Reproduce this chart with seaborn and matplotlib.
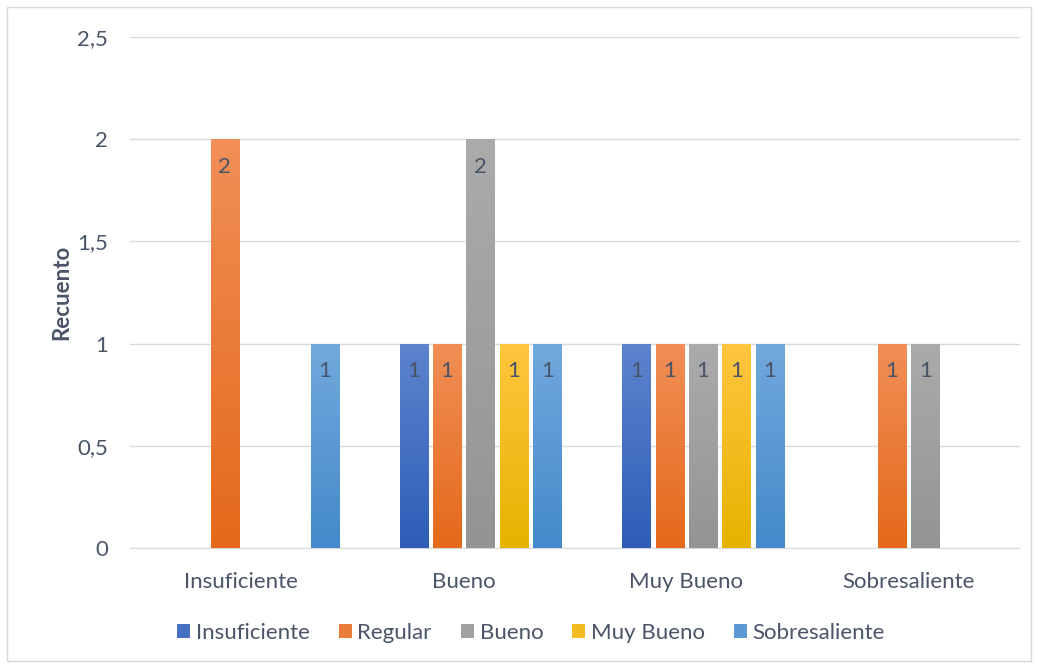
import matplotlib
matplotlib.use("Agg")
import matplotlib.pyplot as plt
import matplotlib.colors as mcolors
from matplotlib.patches import Patch
import numpy as np
import pandas as pd
import seaborn as sns

categories = ["Insuficiente", "Bueno", "Muy Bueno", "Sobresaliente"]
series = ["Insuficiente", "Regular", "Bueno", "Muy Bueno", "Sobresaliente"]
counts = {
    "Insuficiente": [0, 1, 1, 0],
    "Regular": [2, 1, 1, 1],
    "Bueno": [0, 2, 1, 1],
    "Muy Bueno": [0, 1, 1, 0],
    "Sobresaliente": [1, 1, 1, 0],
}
# (top, bottom) gradient colours for each series
grad = {
    "Insuficiente": ("#5D84CD", "#2E5DB7"),
    "Regular": ("#F18F57", "#E4691A"),
    "Bueno": ("#ABABAB", "#949494"),
    "Muy Bueno": ("#FFC63F", "#E5B300"),
    "Sobresaliente": ("#72A9DD", "#4489CA"),
}
mid = {k: mcolors.to_hex(np.mean([mcolors.to_rgb(a), mcolors.to_rgb(b)], axis=0))
       for k, (a, b) in grad.items()}
txt = "#4A5468"

# the source chart keeps an empty first slot in every group
slots = ["_vacio"] + series
pal = dict(mid, _vacio="white")

rows = []
for c in categories:
    rows.append({"cat": c, "serie": "_vacio", "n": 0})
for s in series:
    for c, v in zip(categories, counts[s]):
        rows.append({"cat": c, "serie": s, "n": v})
df = pd.DataFrame(rows)

sns.set_style("white")
plt.rcParams["font.family"] = ["Lato", "DejaVu Sans"]

fig = plt.figure(figsize=(10.38, 6.68), dpi=100)
ax = fig.add_axes([130 / 1038, 1 - 548 / 668, 890 / 1038, 511 / 668])

sns.barplot(data=df, x="cat", y="n", hue="serie", order=categories,
            hue_order=slots, palette=pal, width=0.90, gap=0.16,
            ax=ax, legend=False, zorder=2)

# vertical gradient fill + value labels
g = np.linspace(0, 1, 256).reshape(-1, 1)
for cont, s in zip(ax.containers, slots):
    if s not in grad:
        for p in cont.patches:
            p.set_visible(False)
        continue
    top, bot = grad[s]
    cmap = mcolors.LinearSegmentedColormap.from_list(s, [bot, top])
    for p, v in zip(cont.patches, counts[s]):
        if v <= 0:
            p.set_visible(False)
            continue
        x0 = p.get_x()
        w = p.get_width()
        h = p.get_height()
        im = ax.imshow(g, cmap=cmap, origin="lower", aspect="auto",
                       extent=(x0, x0 + w, 0, h), zorder=3)
        im.set_clip_path(p)
        ax.text(x0 + w / 2, h - 0.085, f"{v}", ha="center", va="top",
                fontsize=16, color=txt, zorder=4)

ax.set_xlim(-0.5, 3.5)
ax.set_ylim(0, 2.5)
ax.set_yticks([0, 0.5, 1, 1.5, 2, 2.5])
ax.set_yticklabels(["0", "0,5", "1", "1,5", "2", "2,5"])
ax.grid(axis="y", color="#D9D9D9", linewidth=1, zorder=0)
ax.set_axisbelow(True)
for sp in ["top", "right", "left"]:
    ax.spines[sp].set_visible(False)
ax.spines["bottom"].set_color("#D9D9D9")
ax.tick_params(axis="both", length=0, labelsize=16, colors=txt)
ax.tick_params(axis="y", pad=16)
ax.tick_params(axis="x", pad=17)
ax.set_xlabel("")
ax.set_ylabel("Recuento", fontsize=16, fontweight="bold", color=txt,
              labelpad=3)

handles = [Patch(facecolor=mid[s], edgecolor="none") for s in series]
fig.legend(handles, series, loc="center", bbox_to_anchor=(531 / 1038, 1 - 633 / 668),
           ncol=5, frameon=False, fontsize=16, handlelength=0.6, handleheight=0.6,
           handletextpad=0.25, columnspacing=1.3, labelcolor=txt)

# outer frame
fig.patches.append(plt.Rectangle((7 / 1038, 7 / 668), 1 - 14 / 1038, 1 - 14 / 668,
                                 transform=fig.transFigure, fill=False,
                                 edgecolor="#D9D9D9", linewidth=1))

fig.savefig("out.png", dpi=100, facecolor="white")
